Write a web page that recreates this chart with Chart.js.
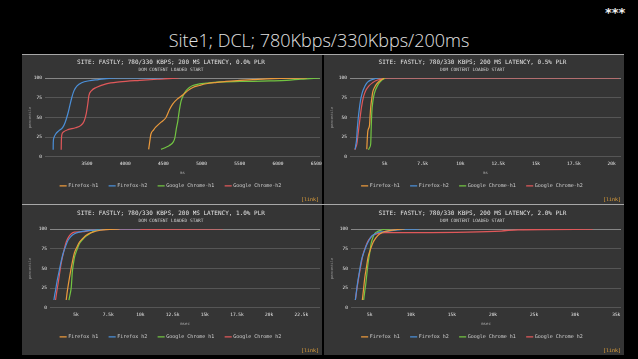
<!DOCTYPE html>
<html>
<head>
<meta charset="utf-8">
<script src="https://cdn.jsdelivr.net/npm/chart.js@4.4.1/dist/chart.umd.min.js"></script>
<style>
  html, body { margin:0; padding:0; background:#000; width:638px; height:359px; overflow:hidden; }
  #title { position:absolute; left:0; top:30px; width:638px; text-align:center; font-family:"Open Sans", "Lato", sans-serif; font-weight:300; font-size:18px; line-height:20px; color:#e2e2e2; }
  #stars { position:absolute; left:605px; top:5px; font-family:"DejaVu Sans", sans-serif; font-weight:bold; font-size:13px; color:#f0f0f0; }
  canvas { position:absolute; background:#353535; }
  .hl { position:absolute; height:1px; background:#a8a8a8; }
</style>
</head>
<body>
<div id="title">Site1; DCL; 780Kbps/330Kbps/200ms</div>
<div id="stars">***</div>
<canvas id="c0" width="300" height="150" style="left:22px;top:54px"></canvas>
<canvas id="c1" width="300" height="150" style="left:324px;top:54px"></canvas>
<canvas id="c2" width="300" height="150" style="left:22px;top:205px"></canvas>
<canvas id="c3" width="300" height="150" style="left:324px;top:205px"></canvas>
<div class="hl" style="left:22px;top:54px;width:602px"></div>
<div class="hl" style="left:22px;top:204px;width:602px"></div>
<script>
// ---- series names ----
const namesTop = ["Firefox-h1", "Firefox-h2", "Google Chrome-h1", "Google Chrome-h2"];
const namesBottom = ["Firefox h1", "Firefox h2", "Google Chrome h1", "Google Chrome h2"];
const panelTitles = [
  "SITE: FASTLY; 780/330 KBPS; 200 MS LATENCY, 0.0% PLR",
  "SITE: FASTLY; 780/330 KBPS; 200 MS LATENCY, 0.5% PLR",
  "SITE: FASTLY; 780/330 KBPS, 200 MS LATENCY, 1.0% PLR",
  "SITE: FASTLY; 780/330 KBPS, 200 MS LATENCY, 2.0% PLR"
];
const subTitle = "DOM CONTENT LOADED START";

// ---- tick values / labels ----
const yTicks = [0, 25, 50, 75, 100];
const xTicks0 = [3500, 4000, 4500, 5000, 5500, 6000, 6500];
const xLabels0 = ["3500", "4000", "4500", "5000", "5500", "6000", "6500"];
const xTicks1 = [5000, 7500, 10000, 12500, 15000, 17500, 20000];
const xLabels1 = ["5k", "7.5k", "10k", "12.5k", "15k", "17.5k", "20k"];
const xTicks2 = [5000, 7500, 10000, 12500, 15000, 17500, 20000, 22500];
const xLabels2 = ["5k", "7.5k", "10k", "12.5k", "15k", "17.5k", "20k", "22.5k"];
const xTicks3 = [5000, 10000, 15000, 20000, 25000, 30000, 35000];
const xLabels3 = ["5k", "10k", "15k", "20k", "25k", "30k", "35k"];

// ---- data: [ms, percentile] ----
// 0.0% PLR
const p0ff1 = [[4307,9.5],[4322,20],[4336,28.7],[4370,34],[4402,38],[4470,44],[4534,50],[4580,60],[4621,67],[4690,74],[4753,78.5],[4820,84],[4885,88],[4970,90.5],[5060,92.7],[5200,94.5],[5324,95.8],[5500,97],[5675,98],[5850,99],[6026,99.6],[6377,100]];
const p0ff2 = [[3057,9],[3058,18],[3065,24],[3090,29],[3130,33],[3180,37],[3215,44],[3250,55],[3275,65],[3300,75],[3330,84],[3370,90],[3430,94],[3530,96.5],[3650,98],[3750,99.3],[3900,100],[4500,100]];
const p0ch1 = [[4469,9.5],[4530,12],[4579,14.5],[4630,19],[4650,24],[4668,35],[4688,45],[4710,60],[4732,71],[4765,79],[4797,84],[4840,88],[4885,90.5],[4970,92.5],[5060,93.5],[5236,95],[5500,95.6],[5675,95.8],[5900,96.3],[6114,97],[6300,98.5],[6553,100]];
const p0ch2 = [[3162,9],[3164,20],[3170,28],[3190,31.5],[3250,34.5],[3350,37],[3420,40],[3460,45],[3490,55],[3510,67],[3525,78],[3560,84],[3620,88],[3750,92.5],[3925,95],[4190,97],[4450,98.6],[4700,100]];
// 0.5% PLR
const p1ff1 = [[3810,9.6],[3840,22],[3880,32.7],[3990,40],[4030,52],[4070,63],[4140,74],[4210,82.7],[4320,88],[4440,92],[4580,95],[4740,97.3],[4960,100]];
const p1ff2 = [[3042,9.6],[3080,15],[3130,21],[3180,35],[3240,48],[3310,60],[3390,71],[3490,80],[3610,86.5],[3750,92],[3900,95.4],[4100,97.5],[4340,99],[4560,100]];
const p1ch1 = [[3920,9],[4000,12],[4070,17],[4100,35],[4140,55.8],[4210,70],[4290,79],[4390,85],[4510,90],[4620,93.5],[4740,96],[4880,98.5],[5030,100]];
const p1ch2 = [[3015,9],[3080,12],[3160,17],[3220,27],[3280,36.5],[3370,50],[3460,63],[3590,76],[3750,84.6],[3950,90],[4190,94],[4400,96.5],[4630,98],[4900,99.3],[5220,100],[20500,100]];
// 1.0% PLR
const p2ff1 = [[4240,10],[4300,18],[4370,26],[4500,39],[4630,51],[4750,61],[4880,70],[5070,77],[5270,83.5],[5530,88],[5790,92],[6050,94.5],[6310,96],[6700,97.8],[7090,98.9],[7700,99.6],[8380,100]];
const p2ff2 = [[3285,10],[3340,16],[3410,22],[3530,34],[3670,45],[3820,57],[3980,68],[4170,77],[4370,85.4],[4600,90.5],[4880,94],[5300,96.3],[5790,97.7],[6830,99],[8380,100],[10000,100]];
const p2ch1 = [[4450,10],[4550,18],[4630,26],[4670,35],[4710,45],[4790,55],[4880,64],[5070,73.5],[5270,81.6],[5530,87],[5790,91],[6100,94.5],[6440,97.7],[6830,100]];
const p2ch2 = [[3410,10],[3500,20],[3600,30],[3720,43],[3850,56.7],[4040,71],[4240,83.5],[4430,90],[4630,94],[4880,96],[5530,96.5],[6000,97.8],[6570,99],[8000,99.5],[16400,100]];
// 2.0% PLR
const p3ff1 = [[4100,10],[4250,24],[4390,37.6],[4590,51],[4790,64],[5100,74.5],[5400,83],[5700,88],[6010,92],[6400,94.8],[6820,96.8],[8030,98.9],[9250,100]];
const p3ff2 = [[3250,10],[3370,20],[3490,29.6],[3730,45],[3980,60],[4280,70],[4590,79],[4900,85.5],[5200,90.5],[5600,93.5],[6010,95.6],[6600,96.5],[7230,97.3],[8440,98.9],[9660,99.7],[11000,100]];
const p3ch1 = [[4260,10],[4380,20],[4510,29.6],[4650,43],[4790,56],[5000,70],[5200,83],[5400,89.5],[5600,94],[5900,96.5],[6210,98],[6820,99.7],[7500,100]];
const p3ch2 = [[3250,10],[3400,21],[3570,33],[3870,51],[4180,67.6],[4480,77],[4790,84.6],[5100,89],[5400,92],[6000,94.3],[6820,95.4],[10870,95.4],[16950,96],[21000,97.4],[23030,99],[32150,99.7]];

const colors = ["#eb9a3c", "#4b8fd8", "#72c442", "#e0585a"];
const MONO = "'DejaVu Sans Mono', 'Liberation Mono', monospace";

const linkPlugin = {
  id: 'linkLabel',
  afterDraw(chart) {
    const ctx = chart.ctx;
    ctx.save();
    ctx.font = "5px " + MONO;
    ctx.fillStyle = "#e9a53a";
    ctx.textAlign = "right";
    ctx.textBaseline = "middle";
    ctx.fillText("[link]", chart.width - 3, chart.height - 4);
    ctx.restore();
  }
};

function makeChart(id, series, names, title, xTitle, xMin, xMax, xTicks, xLabels, yWidth, padRight) {
  const datasets = series.map((s, i) => ({
    label: names[i],
    data: s.map(p => ({x: p[0], y: p[1]})),
    borderColor: colors[i],
    backgroundColor: colors[i],
    borderWidth: 1.2,
    pointRadius: 0,
    fill: false,
    cubicInterpolationMode: 'monotone'
  }));
  new Chart(document.getElementById(id), {
    type: 'line',
    data: { datasets },
    plugins: [linkPlugin],
    options: {
      responsive: false,
      animation: false,
      devicePixelRatio: 1,
      layout: { padding: { left: 0, right: padRight, top: 0, bottom: 5.6 } },
      plugins: {
        tooltip: { enabled: false },
        title: { display: true, text: title, color: "#e4e4e4", font: { family: MONO, size: 6, weight: 'normal' }, padding: { top: 4.4, bottom: 0 } },
        subtitle: { display: true, text: subTitle, color: "#d0d0d0", font: { family: MONO, size: 4.5, weight: 'normal' }, padding: { top: 1.7, bottom: 5.3 } },
        legend: {
          position: 'bottom',
          labels: { usePointStyle: true, pointStyle: 'line', color: "#cfcfcf", font: { family: MONO, size: 5 }, padding: 11.4, boxWidth: 6 }
        }
      },
      scales: {
        x: {
          type: 'linear', min: xMin, max: xMax,
          afterBuildTicks: (axis) => { axis.ticks = xTicks.map(v => ({value: v})); },
          afterFit: (s) => { s.height = 15.1; s.paddingLeft = 0; s.paddingRight = 0; },
          ticks: { autoSkip: false, maxRotation: 0, padding: 4.3, color: "#e6e6e6", font: { family: MONO, size: 4.5 },
                   callback: (v, i) => xLabels[i] },
          grid: { display: false, drawTicks: false },
          border: { display: false },
          title: { display: true, text: xTitle, color: "#aaaaaa", font: { family: MONO, size: 4 }, padding: { top: 0, bottom: -3.3 } }
        },
        y: {
          min: 0, max: 100,
          afterBuildTicks: (axis) => { axis.ticks = yTicks.map(v => ({value: v})); },
          afterFit: (s) => { s.width = yWidth; s.paddingTop = 0; s.paddingBottom = 0; },
          ticks: { padding: 3, color: "#e6e6e6", font: { family: MONO, size: 4.5 } },
          grid: { drawTicks: false, lineWidth: 0.8, color: (c) => c.tick && c.tick.value === 100 ? "#9a9a9a" : "#5e5e5e" },
          border: { display: false },
          title: { display: true, text: "percentile", color: "#9a9a9a", font: { family: MONO, size: 3.5 }, padding: { top: 5.6, bottom: 0 } }
        }
      }
    }
  });
}

makeChart('c0', [p0ff1, p0ff2, p0ch1, p0ch2], namesTop, panelTitles[0], "ms", 2950, 6550, xTicks0, xLabels0, 23, 2);
makeChart('c1', [p1ff1, p1ff2, p1ch1, p1ch2], namesTop, panelTitles[1], "ms", 2700, 20620, xTicks1, xLabels1, 26, 3);
makeChart('c2', [p2ff1, p2ff2, p2ch1, p2ch2], namesBottom, panelTitles[2], "msec", 2980, 23950, xTicks2, xLabels2, 28, 2);
makeChart('c3', [p3ff1, p3ff2, p3ch1, p3ch2], namesBottom, panelTitles[3], "msec", 2720, 35580, xTicks3, xLabels3, 27, 3);
</script>
</body>
</html>
